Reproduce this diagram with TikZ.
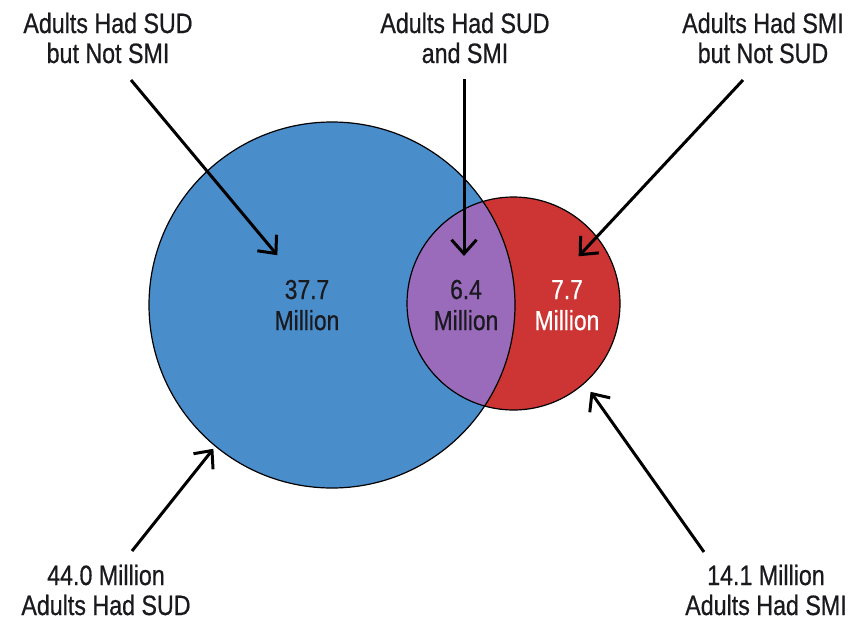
\documentclass[tikz,border=0pt]{standalone}
\usepackage{fontspec}
\setmainfont{Liberation Sans}[FakeStretch=0.83,FakeBold=0.6]
\usetikzlibrary{arrows.meta}
\definecolor{sudblue}{RGB}{74,141,203}
\definecolor{smired}{RGB}{205,52,52}
\definecolor{bothpurple}{RGB}{155,107,187}
\definecolor{txtdark}{RGB}{25,25,30}
\tikzset{
  lbl/.style={align=center, inner sep=0pt, anchor=base, text=txtdark,
    font=\fontsize{28}{30}\selectfont},
  inlbl/.style={align=center, inner sep=0pt, anchor=base, text=txtdark,
    font=\fontsize{27.5}{31}\selectfont},
  pointer/.style={line width=3pt, -{Straight Barb[length=14pt,width=25pt,line width=3pt]}, shorten >=1pt},
  rim/.style={draw=black, line width=1.2pt}
}
\begin{document}
\begin{tikzpicture}[x=1pt,y=-1pt]
\useasboundingbox (0,0) rectangle (856,624);
% circles
\fill[sudblue] (332,305) circle (183);
\fill[smired] (513.5,303.5) circle (106.5);
\begin{scope}
  \clip (332,305) circle (183);
  \fill[bothpurple] (513.5,303.5) circle (106.5);
\end{scope}
\draw[rim] (332,305) circle (183);
\draw[rim] (513.5,303.5) circle (106.5);
% labels (anchor = baseline of the last line)
\node[lbl] (tl) at (108,63) {Adults Had SUD\\but Not SMI};
\node[lbl] (tm) at (465,63) {Adults Had SUD\\and SMI};
\node[lbl] (tr) at (763,63) {Adults Had SMI\\but Not SUD};
\node[lbl] (bl) at (106,615) {44.0 Million\\Adults Had SUD};
\node[lbl] (br) at (766,615) {14.1 Million\\Adults Had SMI};
\node[inlbl] (a) at (307,330) {37.7\\Million};
\node[inlbl] (b) at (466,330) {6.4\\Million};
\node[inlbl, text=white] (c) at (567,330) {7.7\\Million};
% connector ends
\coordinate (tls) at (131,80);
\coordinate (tlt) at (278,256);
\coordinate (tms) at (464,79);
\coordinate (tmt) at (464,257);
\coordinate (trs) at (743,80);
\coordinate (trt) at (578,257);
\coordinate (bls) at (132,551);
\coordinate (blt) at (214,448);
\coordinate (brs) at (704,552);
\coordinate (brt) at (590,391);
\draw[pointer] (tls) -- (tlt);
\draw[pointer] (tms) -- (tmt);
\draw[pointer] (trs) -- (trt);
\draw[pointer] (bls) -- (blt);
\draw[pointer] (brs) -- (brt);
\end{tikzpicture}
\end{document}
